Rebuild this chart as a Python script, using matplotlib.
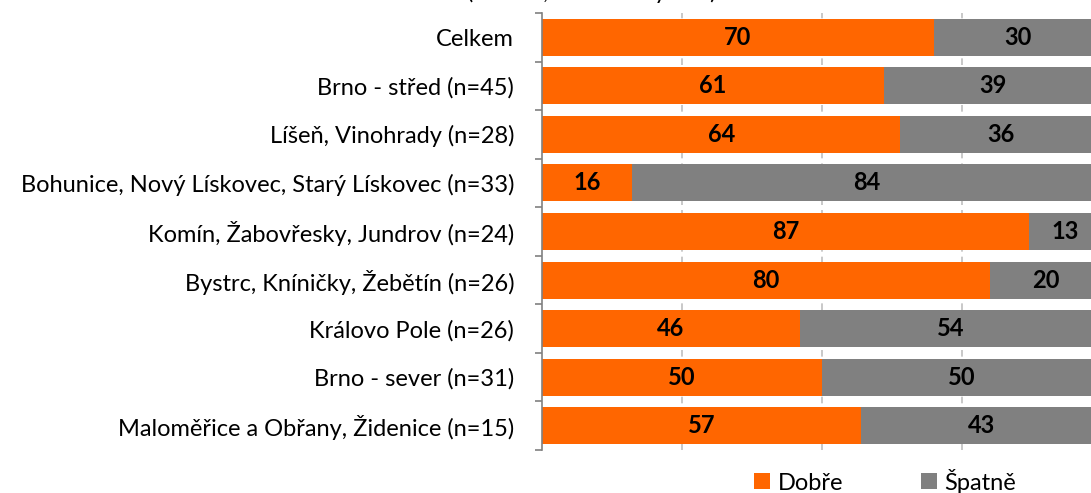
import matplotlib
matplotlib.use("Agg")
import matplotlib.pyplot as plt
import numpy as np

plt.rcParams['font.family'] = ['Lato', 'DejaVu Sans']

categories = [
    "Celkem",
    "Brno - střed (n=45)",
    "Líšeň, Vinohrady (n=28)",
    "Bohunice, Nový Lískovec, Starý Lískovec (n=33)",
    "Komín, Žabovřesky, Jundrov (n=24)",
    "Bystrc, Kníničky, Žebětín (n=26)",
    "Královo Pole (n=26)",
    "Brno - sever (n=31)",
    "Maloměřice a Obřany, Židenice (n=15)",
]
dobre = [70, 61, 64, 16, 87, 80, 46, 50, 57]
spatne = [30, 39, 36, 84, 13, 20, 54, 50, 43]
series_names = ["Dobře", "Špatně"]
title_text = "(řazeno, dle lokality MČ)"

orange = "#FF6600"
grey = "#808080"

W, H = 1091, 493
fig = plt.figure(figsize=(W / 100, H / 100), dpi=100)
# axes runs past the right edge, the original picture is cropped there
ax = fig.add_axes([542 / W, 1 - 450 / H, (1102 - 542) / W, (450 - 13) / H])

y = np.arange(len(categories))
bh = 0.76
b1 = ax.barh(y, dobre, height=bh, color=orange, label=series_names[0], zorder=2)
b2 = ax.barh(y, spatne, left=dobre, height=bh, color=grey, label=series_names[1], zorder=2)

for i in range(len(categories)):
    ax.text(dobre[i] / 2, y[i], str(dobre[i]), ha='center', va='center',
            fontsize=17, fontweight='bold', color='black', zorder=3)
    ax.text(dobre[i] + spatne[i] / 2, y[i], str(spatne[i]), ha='center', va='center',
            fontsize=17, fontweight='bold', color='black', zorder=3)

ax.set_xlim(0, 100)
ax.set_ylim(len(categories) - 0.5, -0.5)
ax.set_xticks([25, 50, 75])
ax.tick_params(axis='x', length=0, labelbottom=False)
ax.xaxis.grid(True, color='#BFBFBF', linewidth=1.2, linestyle=(0, (4, 3)), zorder=0)

ax.set_yticks(y)
ax.set_yticklabels(categories, fontsize=17)
ax.set_yticks(np.arange(len(categories) + 1) - 0.5, minor=True)
ax.tick_params(axis='y', which='major', length=0, pad=20)
ax.tick_params(axis='y', which='minor', length=5, color=grey, width=1.2)

for s in ['top', 'right', 'bottom']:
    ax.spines[s].set_visible(False)
ax.spines['left'].set_color(grey)
ax.spines['left'].set_linewidth(1.2)

fig.legend(handles=[b1, b2], loc='center', bbox_to_anchor=(885 / W, 1 - 481 / H),
           ncol=2, frameon=False, fontsize=17, handlelength=0.68, handleheight=0.68,
           handletextpad=0.3, columnspacing=3.3, borderpad=0, borderaxespad=0)

fig.text(592 / W, 1 + 1 / H, title_text, ha='center', va='baseline', fontsize=17)

fig.savefig("out.png", dpi=100)
